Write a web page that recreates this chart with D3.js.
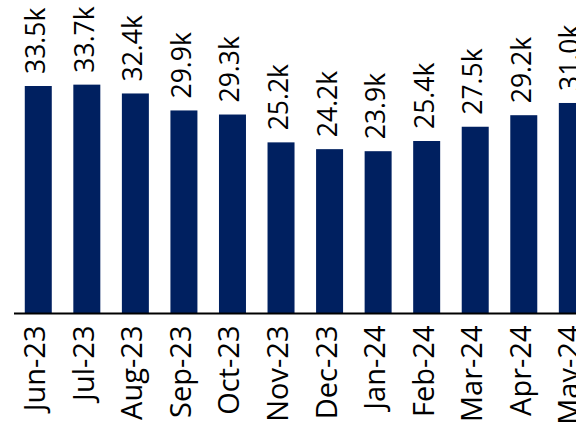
<!DOCTYPE html>
<html>
<head>
<meta charset="utf-8">
<script src="https://cdn.jsdelivr.net/npm/d3@7"></script>
<style>
  html, body { margin: 0; padding: 0; background: #ffffff; }
  svg { display: block; }
  text { font-family: "Open Sans", sans-serif; fill: #000000; }
</style>
</head>
<body>
<svg id="chart" width="576" height="425"></svg>
<script>
// Monthly totals, in thousands
const months = ["Jun-23", "Jul-23", "Aug-23", "Sep-23", "Oct-23", "Nov-23",
                "Dec-23", "Jan-24", "Feb-24", "Mar-24", "Apr-24", "May-24"];
const values = [33.5, 33.7, 32.4, 29.9, 29.3, 25.2, 24.2, 23.9, 25.4, 27.5, 29.2, 31.0];
const valueLabels = ["33.5k", "33.7k", "32.4k", "29.9k", "29.3k", "25.2k",
                     "24.2k", "23.9k", "25.4k", "27.5k", "29.2k", "31.0k"];

const svg = d3.select("#chart");
const baseY = 313.5;
const barColor = "#002060";

const x = d3.scaleBand()
  .domain(months)
  .range([14, 596.6])
  .paddingInner(0.444)
  .paddingOuter(0.222);

const y = d3.scaleLinear()
  .domain([0, 33.5])
  .range([baseY, 86]);

// Bars
svg.append("g")
  .selectAll("rect")
  .data(values)
  .join("rect")
  .attr("x", (d, i) => x(months[i]))
  .attr("y", d => y(d))
  .attr("width", x.bandwidth())
  .attr("height", d => baseY - y(d))
  .attr("fill", barColor);

// Category axis: baseline plus rotated month labels
const axis = d3.axisBottom(x).tickSize(0).tickPadding(0);
const gx = svg.append("g")
  .attr("transform", `translate(0,${baseY})`)
  .call(axis);
gx.select(".domain")
  .attr("d", `M14,0H600`)
  .attr("stroke", "#000")
  .attr("stroke-width", 2);
gx.selectAll(".tick text")
  .attr("font-size", 29)
  .attr("font-family", "Open Sans, sans-serif")
  .attr("fill", "#000")
  .attr("text-anchor", "end")
  .attr("dy", 0)
  .attr("y", 0)
  .attr("transform", "translate(7,12) rotate(-90)");

// Value labels above each bar
svg.append("g")
  .selectAll("text")
  .data(values)
  .join("text")
  .attr("transform", (d, i) =>
    `translate(${x(months[i]) + x.bandwidth() / 2 + 7},${y(d) - 12}) rotate(-90)`)
  .attr("text-anchor", "start")
  .attr("font-size", 26.5)
  .text((d, i) => valueLabels[i]);
</script>
</body>
</html>
